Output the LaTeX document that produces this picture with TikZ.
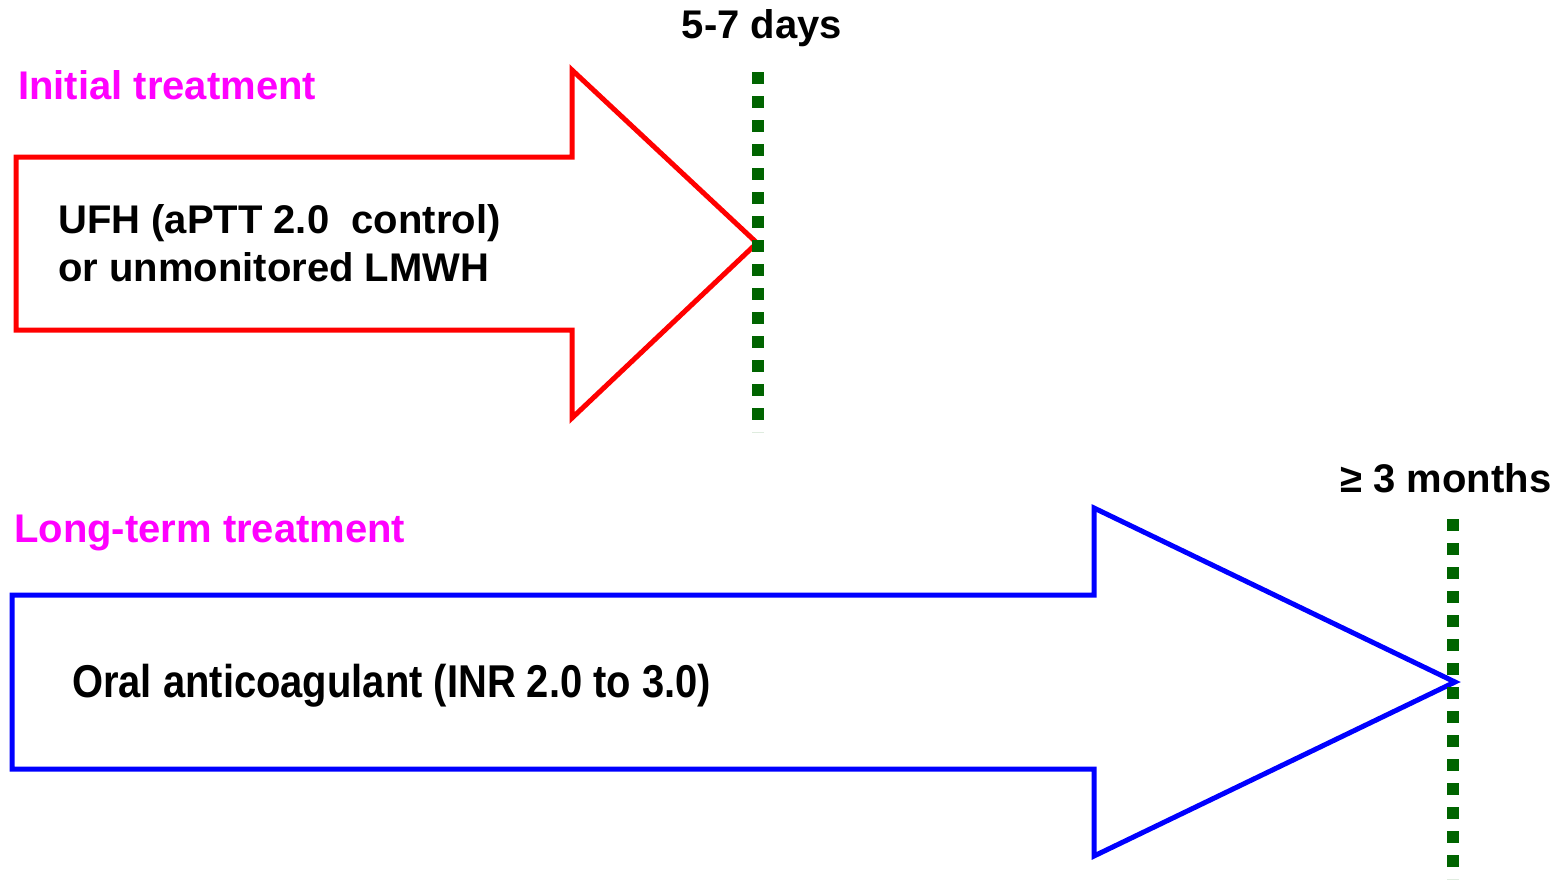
\documentclass[tikz,border=0pt]{standalone}
\usepackage{fontspec}
\setmainfont{Liberation Sans}
\definecolor{lblmag}{RGB}{255,0,255}
\definecolor{arrred}{RGB}{255,0,0}
\definecolor{arrblue}{RGB}{0,0,255}
\definecolor{dotgreen}{RGB}{0,100,0}
\begin{document}
\begin{tikzpicture}[x=1pt,y=-1pt,
  txt/.style={font=\fontsize{40}{48}\selectfont\bfseries, inner sep=0pt, anchor=base west},
  heading/.style={txt, text=lblmag},
  fatarrow/.style={line width=5pt, line join=miter, miter limit=20},
  marker/.style={dotgreen, line width=12pt, dash pattern=on 12pt off 12pt},
  milestone/.style={font=\fontsize{40}{48}\selectfont\bfseries, inner sep=0pt, anchor=base}]
\useasboundingbox (0,0) rectangle (1563,881);
% red arrow
\coordinate (r1) at (16,157);
\coordinate (r2) at (572,157);
\coordinate (r3) at (572,70);
\coordinate (rtip) at (757,243);
\coordinate (r5) at (572,418);
\coordinate (r6) at (572,330);
\coordinate (r7) at (16,330);
\draw[fatarrow, arrred] (r1) -- (r2) -- (r3) -- (rtip) -- (r5) -- (r6) -- (r7) -- cycle;
% blue arrow
\coordinate (b1) at (12,595);
\coordinate (b2) at (1094,595);
\coordinate (b3) at (1094,508);
\coordinate (btip) at (1455,682);
\coordinate (b5) at (1094,856);
\coordinate (b6) at (1094,769);
\coordinate (b7) at (12,769);
\draw[fatarrow, arrblue] (b1) -- (b2) -- (b3) -- (btip) -- (b5) -- (b6) -- (b7) -- cycle;
% green dotted markers
\coordinate (g1top) at (758,72);
\coordinate (g1bot) at (758,432);
\coordinate (g2top) at (1453,519);
\coordinate (g2bot) at (1453,879);
\draw[marker] (g1top) -- (g1bot);
\draw[marker] (g2top) -- (g2bot);
% texts
\node[milestone] (days) at (762,38) {5-7 days};
\node[milestone] (months) at (1446,492) {≥ 3 months};
\node[heading] (init) at (18,99) {Initial treatment};
\node[heading] (long) at (14,542) {Long-term treatment};
\node[txt] (ufh1) at (58,233) {UFH (aPTT 2.0\ \ control)};
\node[txt] (ufh2) at (58,281) {or unmonitored LMWH};
\node[txt, font=\fontsize{46}{54}\selectfont\bfseries, xscale=0.868] (oral) at (72,697) {Oral anticoagulant (INR 2.0 to 3.0)};
\end{tikzpicture}
\end{document}
